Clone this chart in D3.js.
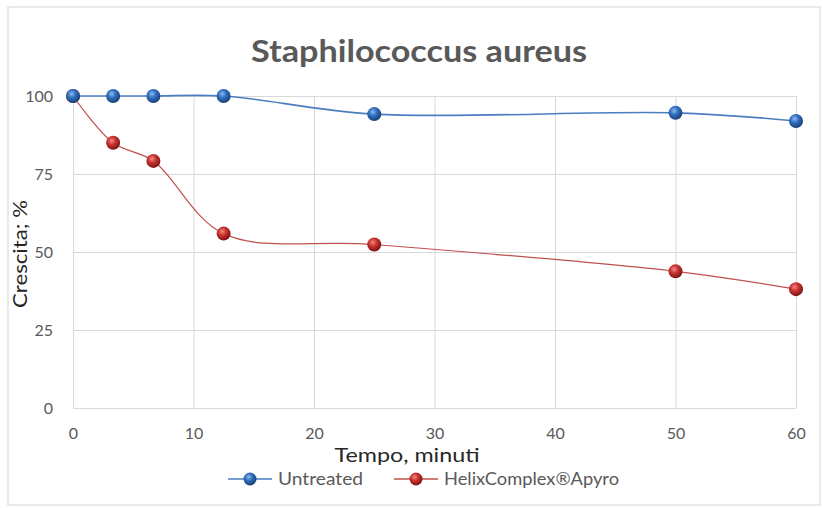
<!DOCTYPE html>
<html><head><meta charset="utf-8">
<script src="https://cdn.jsdelivr.net/npm/d3@7"></script>
<style>body{margin:0;background:#fff}svg{display:block}</style>
</head><body>
<script>
const title = "Staphilococcus aureus";
const xLabel = "Tempo, minuti";
const yLabel = "Crescita; %";
const times = [0, 3.33, 6.67, 12.5, 25, 50, 60];
const untreated = [100, 100, 100, 100, 94.2, 94.6, 92.0];
const helix = [100, 85.0, 79.2, 55.9, 52.4, 43.8, 38.1];
const seriesNames = ["Untreated", "HelixComplex®Apyro"];
const xTicks = [0, 10, 20, 30, 40, 50, 60];
const yTicks = [0, 25, 50, 75, 100];

const W = 823, H = 508;
const svg = d3.select("body").append("svg").attr("width", W).attr("height", H);
const defs = svg.append("defs");
function grad(id, light, mid, dark) {
  const g = defs.append("radialGradient").attr("id", id).attr("cx", "40%").attr("cy", "35%").attr("r", "65%");
  g.append("stop").attr("offset", "0%").attr("stop-color", light);
  g.append("stop").attr("offset", "45%").attr("stop-color", mid);
  g.append("stop").attr("offset", "100%").attr("stop-color", dark);
}
grad("gBlue", "#8fb8ea", "#2f6fc0", "#1b3f75");
grad("gRed", "#f08a86", "#c8322e", "#7a1414");

svg.append("rect").attr("x", 8).attr("y", 7).attr("width", 812).attr("height", 498)
  .attr("fill", "#fff").attr("stroke", "#dcdcdc").attr("stroke-width", 1.2);

const x = d3.scaleLinear().domain([0, 60]).range([73, 796]);
const y = d3.scaleLinear().domain([0, 100]).range([408, 96]);

const font = "Lato, 'Open Sans', sans-serif";

// grid
svg.append("g").selectAll("line").data(yTicks).join("line")
  .attr("x1", x(0)).attr("x2", x(60)).attr("y1", d => y(d) + 0.5).attr("y2", d => y(d) + 0.5)
  .attr("stroke", "#d9d9d9").attr("stroke-width", 1);
svg.append("g").selectAll("line").data(xTicks).join("line")
  .attr("x1", d => x(d) + 0.5).attr("x2", d => x(d) + 0.5).attr("y1", y(0)).attr("y2", y(100))
  .attr("stroke", "#d9d9d9").attr("stroke-width", 1);

// axes (labels only)
const xAxis = svg.append("g").attr("transform", `translate(0,${y(0) + 17})`)
  .call(d3.axisBottom(x).tickValues(xTicks).tickSize(0).tickPadding(3));
const yAxis = svg.append("g").attr("transform", `translate(${x(0) - 20},0)`)
  .call(d3.axisLeft(y).tickValues(yTicks).tickSize(0).tickPadding(0));
[xAxis, yAxis].forEach(a => {
  a.select(".domain").remove();
  a.selectAll("text").attr("fill", "#595959").style("font-family", font).style("font-size", "16px");
});

// title
svg.append("text").attr("x", 419).attr("y", 62).attr("text-anchor", "middle")
  .attr("fill", "#595959").style("font-family", font).style("font-size", "30px").style("font-weight", "bold")
  .attr("textLength", 336).attr("lengthAdjust", "spacingAndGlyphs")
  .text(title);
svg.append("text").attr("x", 407).attr("y", 462).attr("text-anchor", "middle")
  .attr("fill", "#262626").style("font-family", font).style("font-size", "20px")
  .attr("textLength", 145).attr("lengthAdjust", "spacingAndGlyphs").text(xLabel);
svg.append("text").attr("transform", `translate(27,254) rotate(-90)`).attr("text-anchor", "middle")
  .attr("fill", "#262626").style("font-family", font).style("font-size", "19px")
  .attr("textLength", 108).attr("lengthAdjust", "spacingAndGlyphs").text(yLabel);

const line = d3.line().x(d => x(d[0])).y(d => y(d[1])).curve(d3.curveCatmullRom.alpha(0.5));
const series = [
  {vals: untreated, color: "#4a7ebf", grad: "gBlue", w: 1.6},
  {vals: helix, color: "#c0504d", grad: "gRed", w: 1.2}
];
series.forEach(s => {
  const pts = times.map((t, i) => [t, s.vals[i]]);
  svg.append("path").attr("d", line(pts)).attr("fill", "none").attr("stroke", s.color).attr("stroke-width", s.w);
});
series.slice().reverse().forEach(s => {
  const pts = times.map((t, i) => [t, s.vals[i]]);
  svg.append("g").selectAll("circle").data(pts).join("circle")
    .attr("cx", d => x(d[0])).attr("cy", d => y(d[1])).attr("r", 7)
    .attr("fill", `url(#${s.grad})`);
});

// legend
const leg = [{x: 228, s: series[0], name: seriesNames[0], tl: 85},
             {x: 394, s: series[1], name: seriesNames[1], tl: 175}];
leg.forEach(l => {
  const g = svg.append("g");
  g.append("line").attr("x1", l.x).attr("x2", l.x + 44).attr("y1", 479).attr("y2", 479)
    .attr("stroke", l.s.color).attr("stroke-width", 1.6);
  g.append("circle").attr("cx", l.x + 22).attr("cy", 479).attr("r", 6.5).attr("fill", `url(#${l.s.grad})`);
  g.append("text").attr("x", l.x + 50).attr("y", 485).attr("fill", "#595959")
    .style("font-family", font).style("font-size", "17px")
    .attr("textLength", l.tl).attr("lengthAdjust", "spacingAndGlyphs").text(l.name);
});
</script>
</body></html>
